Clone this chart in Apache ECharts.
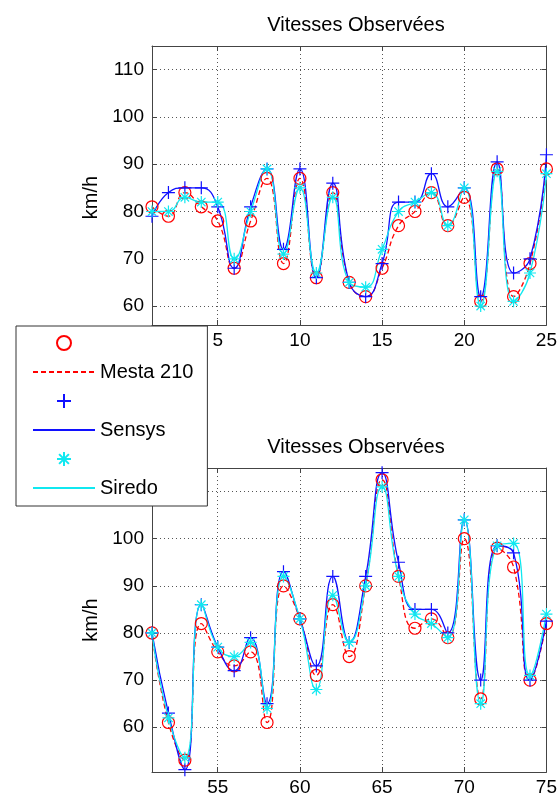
<!DOCTYPE html>
<html><head><meta charset="utf-8">
<script src="https://cdn.jsdelivr.net/npm/echarts@6/dist/echarts.min.js"></script>
<style>html,body{margin:0;padding:0;background:#fff}#c{width:560px;height:798px}</style>
</head><body><div id="c"></div>
<script>
// ---- data ----
const xTop = [1,2,3,4,5,6,7,8,9,10,11,12,13,14,15,16,17,18,19,20,21,22,23,24,25];
const mestaTop  = [81,79,84,81,78,68,78,87,69,87,66,84,65,62,68,77,80,84,77,83,61,89,62,69,89];
const sensysTop = [79,84,85,85,81,68,81,89,72,89,66,86,65,62,69,82,82,88,81,85,62,90.5,67,70,92];
const siredoTop = [80,80,83,82,82,70,80,89,71,85,67,83,65,64,72,80,82,84,77,85,60,88.5,61,67,88];

const xBot = [51,52,53,54,55,56,57,58,59,60,61,62,63,64,65,66,67,68,69,70,71,72,73,74,75];
const mestaBot  = [80,61,53,82,76,73,76,61,90,83,71,86,75,90,112.5,92,81,83,79,100,66,98,94,70,82];
const sensysBot = [80,63,51,86,77,72,79,65,93,83,73,92,78,92,114,95,85,85,80,104,70,98.5,97,70,82.5];
const siredoBot = [80,62,53.5,86,77,75,78,64,92,83,68,88,78,90,111,92,84,82,79,104,65,98.5,99,71,84];

const xTicksTop = [5,10,15,20,25];
const xTicksBot = [55,60,65,70,75];
const yTicks = [60,70,80,90,100,110];

const titleText = 'Vitesses Observées';
const yName = 'km/h';
const names = ['Mesta 210','Sensys','Siredo'];

// ---- styling ----
const FONT = "'Liberation Sans', Arial, Helvetica, sans-serif";
const AX = '#444';
const colors = ['#ff0000','#1010ff','#10e8f0'];
const markNames = [' ','  ','   '];
const symbols = [
  'circle',
  'path://M0,-1L0,1M-1,0L1,0',
  'path://M0,-1L0,1M-1,0L1,0M-0.7,-0.7L0.7,0.7M-0.7,0.7L0.7,-0.7'
];
const symSizes = [12, 13, 12];

function zip(xs, ys){ return xs.map((x,i)=>[x, ys[i]]); }

function xAxes(gi, min, max, ticks){
  return [
    { gridIndex: gi, type:'value', min, max, position:'bottom',
      axisLine:{ show:true, onZero:false, lineStyle:{color:AX, width:1}},
      axisTick:{ show:true, inside:true, length:5, customValues:ticks, lineStyle:{color:AX}},
      axisLabel:{ show:true, customValues:ticks, color:'#000', fontSize:19, fontFamily:FONT, margin:6},
      splitLine:{ show:true, lineStyle:{color:'#555', type:[1,3], width:1}} },
    { gridIndex: gi, type:'value', min, max, position:'top',
      axisLine:{ show:true, onZero:false, lineStyle:{color:AX, width:1}},
      axisTick:{ show:true, inside:true, length:5, customValues:ticks, lineStyle:{color:AX}},
      axisLabel:{ show:false }, splitLine:{ show:false } }
  ];
}
function yAxes(gi, min, max, namePad){
  return [
    { gridIndex: gi, type:'value', min, max, position:'left',
      name: yName, nameLocation:'middle', nameGap:50, nameRotate:90,
      nameTextStyle:{ color:'#000', fontSize:20, fontFamily:FONT, padding:namePad },
      axisLine:{ show:true, onZero:false, lineStyle:{color:AX, width:1}},
      axisTick:{ show:true, inside:true, length:5, customValues:yTicks, lineStyle:{color:AX}},
      axisLabel:{ show:true, customValues:yTicks, color:'#000', fontSize:19, fontFamily:FONT, margin:8},
      splitLine:{ show:true, lineStyle:{color:'#555', type:[1,3], width:1}} },
    { gridIndex: gi, type:'value', min, max, position:'right',
      axisLine:{ show:true, onZero:false, lineStyle:{color:AX, width:1}},
      axisTick:{ show:true, inside:true, length:5, customValues:yTicks, lineStyle:{color:AX}},
      axisLabel:{ show:false }, splitLine:{ show:false } }
  ];
}

function seriesFor(gi, xs, arrs){
  const out = [];
  arrs.forEach((arr, k) => {
    const data = zip(xs, arr);
    out.push({
      type:'scatter', name: markNames[k], xAxisIndex: gi*2, yAxisIndex: gi*2,
      data, symbol: symbols[k], symbolSize: symSizes[k],
      itemStyle:{ color:'rgba(0,0,0,0)', borderColor: colors[k], borderWidth: 1.2, opacity:1 },
      z: 3
    });
    out.push({
      type:'line', name: names[k], xAxisIndex: gi*2, yAxisIndex: gi*2,
      data, symbol:'none', showSymbol:false, smooth:0.5,
      lineStyle:{ color: colors[k], width:1.3, type: k===0 ? [5,3] : 'solid' },
      itemStyle:{ color: colors[k] },
      z: 2
    });
  });
  return out;
}

const noSym = { color:'rgba(0,0,0,0)', borderColor:'rgba(0,0,0,0)', borderWidth:0 };

const option = {
  animation:false,
  backgroundColor:'#fff',
  title:[
    { text:titleText, left:351, top:10, textAlign:'center',
      textStyle:{ color:'#000', fontSize:20, fontWeight:'normal', fontFamily:FONT } },
    { text:titleText, left:351, top:432, textAlign:'center',
      textStyle:{ color:'#000', fontSize:20, fontWeight:'normal', fontFamily:FONT } }
  ],
  grid:[
    { left:152, right:10, top:46, height:279, containLabel:false },
    { left:152, right:10, top:468, height:304, containLabel:false }
  ],
  xAxis: [...xAxes(0, 1, 25, xTicksTop), ...xAxes(1, 51, 75, xTicksBot)],
  yAxis: [...yAxes(0, 56, 115, [0,24,0,0]), ...yAxes(1, 50.5, 115, 0)],
  legend:{
    orient:'vertical', left:16, top:326, z:20,
    data:[
      { name: markNames[0] }, { name: names[0], itemStyle: noSym },
      { name: markNames[1] }, { name: names[1], itemStyle: noSym },
      { name: markNames[2] }, { name: names[2], itemStyle: noSym }
    ],
    itemWidth:62, itemHeight:14, itemGap:9,
    padding:[7,14,8,16],
    backgroundColor:'#fff', borderColor:'#333', borderWidth:1,
    textStyle:{ color:'#000', fontSize:20, fontFamily:FONT },
    selectedMode:false
  },
  series: [...seriesFor(0, xTop, [mestaTop, sensysTop, siredoTop]),
           ...seriesFor(1, xBot, [mestaBot, sensysBot, siredoBot])]
};

const chart = echarts.init(document.getElementById('c'), null, {renderer:'canvas'});
chart.setOption(option);
</script>
</body></html>
